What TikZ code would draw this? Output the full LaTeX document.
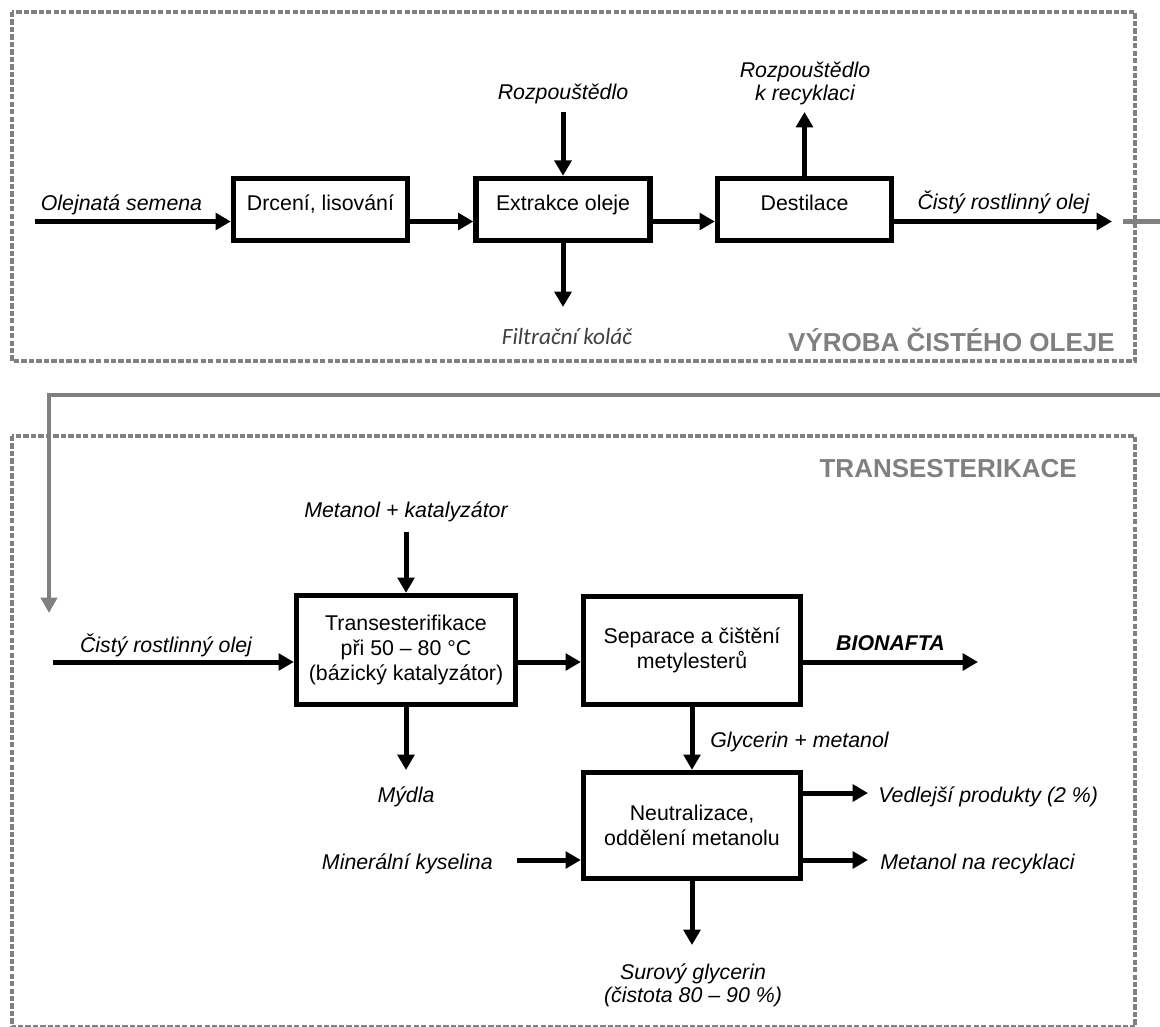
\documentclass[tikz,border=0pt]{standalone}
\usepackage{fontspec}
\setmainfont{Liberation Sans}
\newfontfamily\calib{Carlito}
\usetikzlibrary{arrows.meta,calc}
\definecolor{frame}{HTML}{808080}
\definecolor{filt}{HTML}{404040}
\begin{document}
\begin{tikzpicture}[x=0.75pt,y=-0.75pt,
  frm/.style={draw=frame, line width=3.5pt, dash pattern=on 4pt off 1.6pt},
  topbox/.style={draw, line width=4pt, inner sep=0pt, minimum width=130.5pt, minimum height=46.5pt,
    text height=11pt, text depth=10pt, font=\fontsize{16pt}{19pt}\selectfont},
  botbox/.style={draw, line width=4pt, inner sep=0pt, align=center, font=\fontsize{16pt}{19pt}\selectfont},
  lbl/.style={inner sep=0pt, text height=11.5pt, text depth=0pt, font=\fontsize{16pt}{19pt}\selectfont\itshape},
  lbltwo/.style={inner sep=0pt, align=center, font=\fontsize{16pt}{17.5pt}\selectfont\itshape},
  title/.style={inner sep=0pt, text height=14pt, text depth=0pt, text=frame, font=\fontsize{19.5pt}{22pt}\selectfont\bfseries},
  arr/.style={line width=3.75pt, -{Triangle[length=11.5pt,width=12.5pt]}},
  gline/.style={draw=frame, line width=3.25pt},
  garr/.style={draw=frame, line width=3.25pt, line join=miter, -{Triangle[length=11.5pt,width=12pt]}}]
\useasboundingbox (0,0) rectangle (1160,1027);
% section frames
\draw[frm] (12,12) rectangle (1135,361);
\draw[frm] (12,436) rectangle (1135,1027.5);
\node[title, anchor=east] (t1) at (1115,342) {VÝROBA ČISTÉHO OLEJE};
\node[title, anchor=east] (t2) at (1077,468) {TRANSESTERIKACE};

% top row boxes
\node[topbox] (drc) at (320.5,209.5) {Drcení, lisování};
\node[topbox] (ext) at (563,209.5) {Extrakce oleje};
\node[topbox] (dst) at (804.5,209.5) {Destilace};

% top labels
\node[lbl] (l1) at (121.5,203) {Olejnatá semena};
\node[lbl] (l2) at (563,92) {Rozpouštědlo};
\node[inner sep=0pt, text height=12pt, text depth=0pt, text=filt, font=\fontsize{17.5pt}{19pt}\selectfont\calib\itshape] (l3) at (567,336) {Filtrační koláč};
\node[lbltwo] (l4) at (805,83.5) {Rozpouštědlo\\k recyklaci};
\node[lbl] (l5) at (1003.5,202) {Čistý rostlinný olej};

% top connectors
\coordinate (s1) at (35,221.5);
\coordinate (s2) at (563,112);
\coordinate (e2) at (563,307);
\coordinate (e3) at (804.5,112);
\coordinate (e4) at (1112,221.5);
\draw[arr] (s1) -- ($(drc.west)+(0,12)$);
\draw[arr] ($(drc.east)+(0,12)$) -- ($(ext.west)+(0,12)$);
\draw[arr] ($(ext.east)+(0,12)$) -- ($(dst.west)+(0,12)$);
\draw[arr] ($(dst.east)+(0,12)$) -- (e4);
\draw[arr] (s2) -- (ext.north);
\draw[arr] (ext.south) -- (e2);
\draw[arr] (dst.north) -- (e3);

% bottom boxes
\node[botbox, minimum width=164.25pt, minimum height=81.75pt] (tr) at (406,650) {Transesterifikace\\při 50 – 80 °C\\(bázický katalyzátor)};
\node[botbox, minimum width=162.75pt, minimum height=81pt] (sep) at (692,650.5) {Separace a čištění\\metylesterů};
\node[botbox, minimum width=162.75pt, minimum height=79.5pt] (neu) at (692,825.5) {Neutralizace,\\oddělení metanolu};

% bottom labels
\node[lbl] (m1) at (406,510) {Metanol + katalyzátor};
\node[lbl] (m2) at (166,645) {Čistý rostlinný olej};
\node[lbl] (m3) at (406,795) {Mýdla};
\node[lbl, font=\fontsize{16pt}{19pt}\selectfont\bfseries\itshape] (m4) at (890.5,643) {BIONAFTA};
\node[lbl, anchor=west] (m5) at (710,740) {Glycerin + metanol};
\node[lbl, anchor=west] (m6) at (878,795) {Vedlejší produkty (2 \%)};
\node[lbl, anchor=west] (m7) at (880,862) {Metanol na recyklaci};
\node[lbl, anchor=east] (m8) at (493,862) {Minerální kyselina};
\node[lbltwo] (m9) at (693,985.5) {Surový glycerin\\(čistota 80 – 90 \%)};

% bottom connectors
\coordinate (b1) at (53,662);
\coordinate (b2) at (406,532);
\coordinate (b3) at (406,770);
\coordinate (b4) at (978,662);
\coordinate (b5) at (868,793);
\coordinate (b6) at (868,860);
\coordinate (b7) at (517,860);
\coordinate (b8) at (692,945);
\draw[arr] (b1) -- ($(tr.west)+(0,12)$);
\draw[arr] ($(tr.east)+(0,12)$) -- ($(sep.west)+(0,11.5)$);
\draw[arr] (b2) -- (tr.north);
\draw[arr] (tr.south) -- (b3);
\draw[arr] ($(sep.east)+(0,11.5)$) -- (b4);
\draw[arr] (sep.south) -- (neu.north);
\draw[arr] ($(neu.east)+(0,-32.5)$) -- (b5);
\draw[arr] ($(neu.east)+(0,34.5)$) -- (b6);
\draw[arr] (b7) -- ($(neu.west)+(0,34.5)$);
\draw[arr] (neu.south) -- (b8);

% grey link between sections
\coordinate (g1) at (1123,221.5);
\coordinate (g2) at (1160,221.5);
\coordinate (g3) at (1160,395);
\coordinate (g4) at (49,395);
\coordinate (g5) at (49,613);
\draw[gline] (g1) -- (g2);
\draw[garr] (g3) -- (g4) -- (g5);
\end{tikzpicture}
\end{document}
